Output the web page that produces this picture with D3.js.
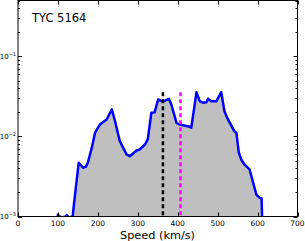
<!DOCTYPE html>
<html><head><meta charset="utf-8">
<script src="https://cdn.jsdelivr.net/npm/d3@7"></script>
<style>body{margin:0;background:#fff}svg{display:block}text{font-family:"DejaVu Sans",sans-serif}</style>
</head><body>
<script>
const title = "TYC 5164";
const xLabel = "Speed (km/s)";
const speeds = [60,95,100,103,110,120,122,127,137,140,152,163,170,175,185,193,205,222,235,242,255,272,280,297,305,318,325,334,342,351,359,368,378,384,397,405,430,434,447,455,463,472,476,484,497,509,517,525,542,547,553,559,567,580,597,605,610,613,650];
const density = [5e-4,5e-4,1.06e-3,1.01e-3,9.7e-4,1.0e-3,1.04e-3,9.7e-4,1.0e-3,1.41e-3,4.69e-3,4.06e-3,4.2e-3,4.73e-3,7.3e-3,1.12e-2,1.41e-2,1.63e-2,2.18e-2,1.63e-2,8.73e-3,5.96e-3,5.67e-3,6.68e-3,6.88e-3,7.94e-3,9.2e-3,1.98e-2,2.0e-2,2.9e-2,2.76e-2,2.8e-2,2.96e-2,2.51e-2,1.48e-2,1.41e-2,1.32e-2,1.29e-2,3.58e-2,2.76e-2,2.64e-2,2.68e-2,2.96e-2,2.76e-2,2.76e-2,3.58e-2,2.07e-2,1.67e-2,1.16e-2,1.11e-2,6.3e-3,5.16e-3,4.47e-3,3.87e-3,1.88e-3,1.71e-3,1.69e-3,5e-4,5e-4];
const xTicks = [0,100,200,300,400,500,600,700];
const yTicks = [1e-3,1e-2,1e-1];
const yExps = ["-3","-2","-1"];
const refLines = [{v:363, color:"#000000"},{v:407, color:"#ff00ff"}];
const refTop = 0.0358;

const W=305,H=241, L=18, R=297.5, T=0.5, B=216.5;
const svg=d3.select("body").append("svg").attr("width",W).attr("height",H);
const x=d3.scaleLinear().domain([0,700]).range([L,R]);
const y=d3.scaleLog().domain([1e-3,0.5]).range([B,T]);
svg.append("clipPath").attr("id","c").append("rect").attr("x",L).attr("y",T).attr("width",R-L).attr("height",B-T);
const pts=speeds.map((s,i)=>[s,density[i]]);
const g=svg.append("g").attr("clip-path","url(#c)");
g.append("path").datum(pts).attr("fill","#bfbfbf")
 .attr("d",d3.area().x(d=>x(d[0])).y0(B).y1(d=>Math.min(y(d[1]),B)));
g.append("path").datum(pts).attr("fill","none").attr("stroke","#0000ff").attr("stroke-width",2.5).attr("stroke-linejoin","round")
 .attr("d",d3.line().x(d=>x(d[0])).y(d=>y(d[1])));
refLines.forEach(r=>{
 g.append("line").attr("x1",x(r.v)).attr("x2",x(r.v)).attr("y1",y(refTop)).attr("y2",B)
  .attr("stroke",r.color).attr("stroke-width",2.5).attr("stroke-dasharray","4,3");
});
// frame
svg.append("rect").attr("x",L).attr("y",T).attr("width",R-L).attr("height",B-T).attr("fill","none").attr("stroke","#000").attr("stroke-width",1);
// x ticks
const ax=svg.append("g");
xTicks.forEach(t=>{
 const px=Math.round(x(t))+0.5;
 ax.append("line").attr("x1",px).attr("x2",px).attr("y1",B).attr("y2",B-4).attr("stroke","#000");
 ax.append("line").attr("x1",px).attr("x2",px).attr("y1",T).attr("y2",T+4).attr("stroke","#000");
 ax.append("text").attr("x",x(t)).attr("y",226).attr("text-anchor","middle").attr("font-size","7.5px").text(t);
});
// y ticks
const minor=[];
[1e-3,1e-2,1e-1].forEach(d=>{for(let k=2;k<=9;k++){const v=d*k; if(v<=0.5) minor.push(v);}});
minor.forEach(v=>{
 const py=Math.round(y(v))+0.5;
 ax.append("line").attr("x1",L).attr("x2",L+2).attr("y1",py).attr("y2",py).attr("stroke","#000");
 ax.append("line").attr("x1",R).attr("x2",R-2).attr("y1",py).attr("y2",py).attr("stroke","#000");
});
yTicks.forEach((v,i)=>{
 const py=Math.round(y(v))+0.5;
 ax.append("line").attr("x1",L).attr("x2",L+4).attr("y1",py).attr("y2",py).attr("stroke","#000");
 ax.append("line").attr("x1",R).attr("x2",R-4).attr("y1",py).attr("y2",py).attr("stroke","#000");
 const t=ax.append("text").attr("x",16).attr("y",y(v)+2.5).attr("text-anchor","end").attr("font-size","7px");
 t.append("tspan").text("10");
 t.append("tspan").attr("dy",-3).attr("font-size","5px").text("\u2212"+yExps[i].slice(1));
});
svg.append("text").attr("x",32).attr("y",22).attr("font-size","11.5px").text(title);
svg.append("text").attr("x",157.5).attr("y",238.5).attr("text-anchor","middle").attr("font-size","11.3px").text(xLabel);
</script>
</body></html>
